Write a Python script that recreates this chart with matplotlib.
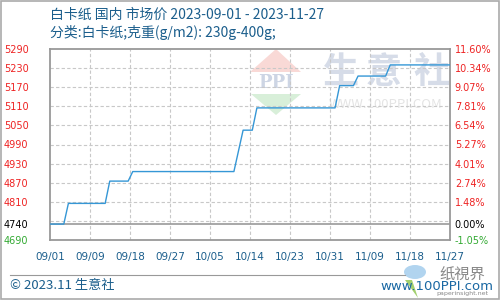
import numpy as np
import pandas as pd
import matplotlib
matplotlib.use("Agg")
import matplotlib.pyplot as plt
import matplotlib.dates as mdates
from matplotlib.patches import Polygon, Rectangle, Ellipse

plt.rcParams['font.family'] = ['Noto Sans CJK SC', 'DejaVu Sans']

# price points (linear between consecutive points)
dates = ["2023-09-01", "2023-09-04", "2023-09-05", "2023-09-13", "2023-09-14",
         "2023-09-18", "2023-09-19", "2023-10-11", "2023-10-12", "2023-10-13",
         "2023-10-15", "2023-10-16", "2023-11-02", "2023-11-03", "2023-11-06",
         "2023-11-07", "2023-11-13", "2023-11-14", "2023-11-27"]
prices = [4740, 4740, 4805, 4805, 4875, 4875, 4905, 4905, 4970, 5035,
          5035, 5105, 5105, 5175, 5175, 5205, 5205, 5240, 5240]

left_ticks = [4690, 4740, 4810, 4870, 4930, 4990, 5050, 5110, 5170, 5230, 5290]
left_labels = ["4690", "4740", "4810", "4870", "4930", "4990", "5050", "5110",
               "5170", "5230", "5290"]
right_labels = ["-1.05%", "0.00%", "1.48%", "2.74%", "4.01%", "5.27%", "6.54%",
                "7.81%", "9.07%", "10.34%", "11.60%"]
x_labels = ["09/01", "09/09", "09/18", "09/27", "10/05", "10/14", "10/23",
            "10/31", "11/09", "11/18", "11/27"]
base_price = 4740

title = "白卡纸 国内 市场价 2023-09-01 - 2023-11-27"
subtitle = "分类:白卡纸;克重(g/m2): 230g-400g;"

blue_txt = "#1b5e8c"
grid_c = "#c8c8c8"
spine_c = "#999999"

d = pd.to_datetime(dates)
xnum = mdates.date2num(d)

fig = plt.figure(figsize=(5, 3), dpi=100)
ax = fig.add_axes([0.1, 0.2, 0.8, 191 / 300])

x0, x1 = xnum[0], xnum[-1]
ax.set_xlim(x0, x1)
ax.set_ylim(4690, 5290)

xt = np.linspace(x0, x1, len(x_labels))
ax.set_xticks(xt)
ax.set_xticklabels(x_labels)
ax.set_yticks(left_ticks)
ax.set_yticklabels(left_labels)

# grid
for v in xt[1:-1]:
    ax.axvline(v, color=grid_c, lw=0.8, ls=(0, (3, 2)), zorder=1)
for v in [4750] + left_ticks[2:-1]:
    ax.axhline(v, color=grid_c, lw=0.8, ls=(0, (3, 2)), zorder=1)
ax.axhline(base_price, color=spine_c, lw=1.2, zorder=2)

# watermark
ax_w = fig.add_axes([0, 0, 1, 1], zorder=0)
ax_w.set_xlim(0, 500)
ax_w.set_ylim(300, 0)
ax_w.axis("off")
ax_w.add_patch(Polygon([[250, 72], [301, 72], [276, 49]], closed=True,
                       fc="#f9d9d6", ec="none"))
ax_w.add_patch(Polygon([[251, 94], [301, 94], [276, 115]], closed=True,
                       fc="#d8efd9", ec="none"))
ax_w.text(276, 83.5, "PPI", ha="center", va="center", fontsize=13,
          color="#cdd5e4", family="DejaVu Serif", fontweight="bold")
for cx, ch in zip([341, 384, 431], "生意社"):
    ax_w.text(cx, 72, ch, ha="center", va="center", fontsize=26,
              color="#d6dce8", fontweight="bold")
ax_w.text(386, 105, "WWW.100PPI.COM", ha="center", va="center", fontsize=9.5,
          color="#e4e4e4")

ax.set_zorder(1)
ax.patch.set_alpha(0)

ax.plot(xnum, prices, color="#3597d6", lw=1.0, zorder=3)

for s in ax.spines.values():
    s.set_color(spine_c)
    s.set_linewidth(1.3)

ax.tick_params(axis="both", length=0)
ax.tick_params(axis="y", pad=15.5, labelsize=7)
ax.tick_params(axis="x", pad=8.5, labelsize=7.5, colors=blue_txt)
for lab in ax.get_yticklabels():
    lab.set_family("DejaVu Sans")
for lab in ax.get_xticklabels():
    lab.set_family("DejaVu Sans")
ycols = ["#33aa33", "#000000"] + ["#ee2222"] * 9
for lab, c in zip(ax.get_yticklabels(), ycols):
    lab.set_color(c)

ax2 = ax.twinx()
ax2.set_ylim(ax.get_ylim())
ax2.set_yticks(left_ticks)
ax2.set_yticklabels(right_labels)
ax2.tick_params(axis="y", length=0, pad=3.5, labelsize=7)
for s in ax2.spines.values():
    s.set_visible(False)
for lab, c in zip(ax2.get_yticklabels(), ycols):
    lab.set_color(c)
    lab.set_family("DejaVu Sans")

# titles
fig.text(50 / 500, 1 - 15 / 300, title, fontsize=10, color=blue_txt,
         va="center", ha="left")
fig.text(50 / 500, 1 - 33 / 300, subtitle, fontsize=10, color=blue_txt,
         va="center", ha="left")

# footer
ax_f = fig.add_axes([0, 0, 1, 1], zorder=5)
ax_f.set_xlim(0, 500)
ax_f.set_ylim(300, 0)
ax_f.axis("off")
ax_f.plot([10, 405], [275, 275], color="#999999", lw=0.8)
ax_f.text(10, 285, "© 2023.11 生意社", fontsize=9.5, color=blue_txt,
          va="center", ha="left")
ax_f.add_patch(Ellipse((415, 272), 22, 14, fc="#a9d0ee", ec="none", alpha=0.9))
ax_f.add_patch(Polygon([[405, 280], [418, 298], [412, 280]], closed=True,
                       fc="#8bc34a", ec="none", alpha=0.8))
ax_f.text(462, 275, "纸視界", fontsize=11, color="#888888", va="center",
          ha="center")
ax_f.text(462, 293, "paperinsight.net", fontsize=4.5, color="#888888",
          va="center", ha="center", family="DejaVu Sans")
ax_f.text(437, 286, "www.100PPI.com", fontsize=9.5, color="#1a68a3",
          va="center", ha="center", family="DejaVu Sans")
ax_f.add_patch(Rectangle((1, 1), 498, 297.5, fill=False, ec="#aaaaaa", lw=1.2))

fig.savefig("out.png", dpi=100)
